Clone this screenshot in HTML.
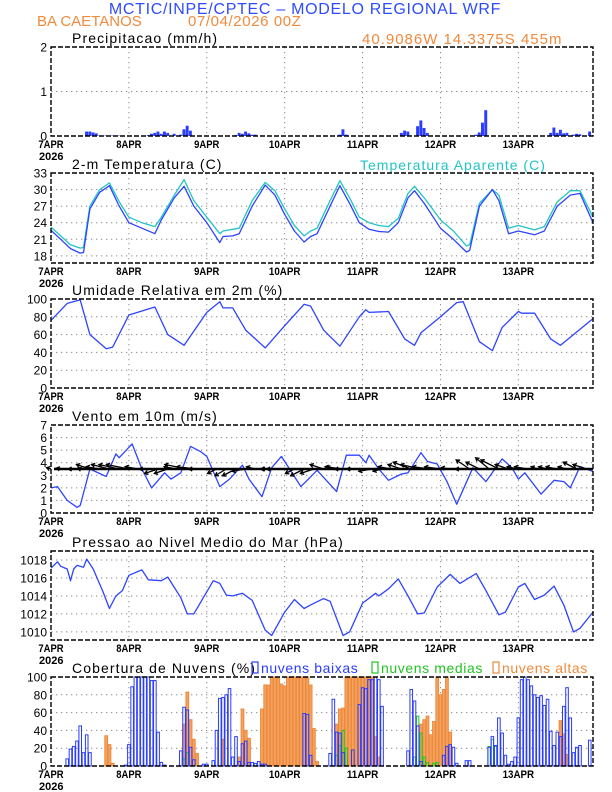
<!DOCTYPE html>
<html><head><meta charset="utf-8"><style>
html,body{margin:0;padding:0;background:#fff;}
svg{display:block;font-family:"Liberation Sans",sans-serif;}
</style></head><body>
<svg id="chart" width="612" height="792" viewBox="0 0 612 792" xmlns="http://www.w3.org/2000/svg">
<text x="305" y="14" text-anchor="middle" font-size="16" fill="#2e4cff" letter-spacing="0.7">MCTIC/INPE/CPTEC – MODELO REGIONAL WRF</text>
<text x="37" y="26" font-size="15" fill="#f08a3c">BA CAETANOS</text>
<text x="188" y="26" font-size="15" fill="#f08a3c" letter-spacing="0.6">07/04/2026 00Z</text>
<text x="362" y="44" font-size="15" fill="#f08a3c" letter-spacing="1.0">40.9086W 14.3375S 455m</text>
<g id="panels"></g>
</svg>
<script>
// ---------- DATA ----------
const dayLabels = ["7APR","8APR","9APR","10APR","11APR","12APR","13APR"];
const precipHours = [11,12,13,14,15,16,17,18,19,20,21,22,30,31,32,33,34,35,36,38,40,41,42,43,57,58,59,60,61,62,63,89,90,91,108,109,110,113,114,115,116,131,132,133,134,154,155,156,157,158,159,161,162,163,166];
const precipValues = [0.1,0.1,0.08,0.06,0.01,0.01,0.01,0.01,0.01,0.01,0.01,0.01,0.02,0.05,0.07,0.1,0.05,0.1,0.07,0.05,0.03,0.15,0.23,0.12,0.02,0.07,0.05,0.1,0.06,0.03,0.03,0.03,0.15,0.03,0.07,0.12,0.1,0.22,0.35,0.18,0.07,0.03,0.08,0.3,0.58,0.07,0.19,0.07,0.14,0.06,0.07,0.03,0.05,0.04,0.1];
const tempHours = [0,3,6,9,10,12,15,18,21,24,28,32,34,38,41,44,48,52,53,56,58,62,66,69,72,75,78,80,82,86,89,92,95,98,101,104,107,110,112,115,120,124,128,129,132,136,138,141,144,149,152,156,160,163,167];
const tempValues = [22.6,21,19.3,18.5,18.6,26.5,29.5,30.7,27,24,23,22,24.5,28.5,30.6,27,24,20.4,21.5,21.6,22,27,30.8,29,25.5,22.5,20.5,21.5,22,27,30.7,27.5,24,22.8,22.4,22.3,24,28.5,29.8,27.5,23,21,18.7,19,27,30,28,22,22.5,21.8,22.5,27,29,29.3,24];
const appTempValues = [23.2,21.6,20,19.4,19.5,27,30,31.2,27.8,25,24,23.3,25,29,31.8,28,25,22,22.5,22.8,23,28,31.3,29.8,26.5,23.5,21.6,22.5,23,28,31.6,28.5,25,24,23.5,23.3,24.8,29.3,30.6,28.5,24.5,22.5,19.8,20,27.5,30,29,23,23.5,22.7,23.3,27.8,29.8,29.8,25];
const rhHours = [0,5,9,12,17,19,24,32,36,41,48,52,53,56,60,66,72,78,80,84,89,95,97,98,104,109,112,114,120,125,127,132,136,139,144,145,149,154,157,167];
const rhValues = [76,95,99,60,44,46,82,91,60,48,85,97,90,90,65,45,70,94,92,65,47,80,88,85,86,55,48,62,80,96,97,52,42,68,86,84,84,55,48,78];
const windHours = [0,2,5,8,9,12,17,20,21,25,28,31,35,37,40,43,46,48,52,55,59,61,65,68,71,77,82,88,91,95,97,98,101,104,108,110,114,116,119,122,125,130,134,139,142,144,146,151,155,158,160,163,167];
const windValues = [2.0,2.1,1.0,0.45,0.6,3.5,2.9,4.7,4.4,5.5,3.5,2.0,3.2,2.7,3.2,5.3,4.9,4.5,2.1,2.7,3.8,2.7,1.3,3.6,4.5,2.1,3.4,1.7,4.6,4.6,4.0,4.6,3.5,2.6,3.1,3.2,4.8,4.1,3.9,2.5,0.7,3.6,2.5,4.3,3.6,2.7,3.2,1.5,2.6,2.5,2.0,3.7,3.3];
const windU = [-1,-1,-0.5,-0.5,-3,-3,-4,-4.5,-5,-3,-2,-3,-3,-3,-5,-4.5,-4,-2,-2.5,-3,-3,-2,-1,-3,-4,-2,-3,-3,-3,-1.5,-4,-4,-3.5,-3,-2,-3,-3,-4,-4.5,-4,-3.5,-2,-1,-3,-3,-3,-4,-3,-2.5,-3,-1.5,-2,-2.5,-2,-3,-3];
const windV = [0.3,0.2,0,0.2,1,0.5,1,1,1,0.5,0,-1,-1,0.5,1,0.5,0,-1,-1.5,-1.5,-0.5,0.5,0,0,0,-1,-1.5,-1,1,0.5,0.5,0,0,-0.5,-0.5,0.5,1,1.5,1,0.5,0.5,0.3,0,2,1.5,2.5,2,1,0.5,0.5,0.5,0.5,0.5,0.5,1.5,1];
const presHours = [0,2,3,5,6,7,8,10,11,13,16,18,20,22,24,28,30,34,36,40,42,44,50,52,54,56,59,62,66,68,72,75,78,80,84,86,90,92,96,100,101,104,107,110,113,115,119,123,126,131,134,138,140,144,146,149,152,155,158,161,163,167];
const presValues = [1017.1,1017.8,1017.3,1017,1015.7,1017,1017.4,1017.2,1018.1,1017,1014.5,1012.6,1014,1014.6,1016.3,1016.9,1015.8,1015.7,1016.1,1013.8,1012,1012,1015.7,1015.4,1014.1,1014,1014.3,1013.5,1010.2,1009.6,1012.2,1013.6,1012.6,1013,1013.7,1013.4,1009.6,1010,1013.2,1014.3,1014,1014.8,1015.9,1014,1012,1012.1,1015,1016.4,1015.4,1016.5,1014.6,1011.9,1012.2,1015,1015.4,1013.6,1014.1,1015.1,1013,1010,1010.4,1012.2];
const lowHours = [5,6,7,8,9,10,11,12,23,24,25,26,27,28,29,30,31,32,33,34,35,40,41,42,43,44,47,48,50,51,52,53,54,55,56,57,58,59,60,61,62,63,64,65,66,78,79,80,86,87,88,89,90,93,95,96,97,98,99,100,101,102,110,111,112,113,114,121,122,123,124,125,128,129,135,136,137,138,139,140,141,142,143,144,145,146,147,148,149,150,151,152,153,154,155,156,157,158,159,160,161,162,163,166];
const lowValues = [8,19,22,28,45,15,35,15,1,24,89,100,100,100,100,100,96,96,38,4,1,17,66,63,21,7,2,2,6,40,76,77,80,87,10,33,5,25,28,4,4,3,5,2,2,59,58,12,14,75,38,37,15,18,69,88,87,97,97,100,97,67,17,86,73,45,5,12,22,24,21,3,6,6,21,33,23,54,37,12,2,5,10,54,97,100,97,90,80,77,79,68,75,39,23,38,33,67,88,54,15,21,23,29];
const highHours = [17,18,19,41,42,43,44,45,53,58,59,60,61,65,66,67,68,69,70,71,72,73,74,75,76,77,78,79,80,81,82,88,89,90,91,92,93,94,95,96,97,98,99,100,101,114,115,116,117,118,119,120,121,122,123,157,158,159];
const highValues = [34,24,3,47,83,52,30,14,30,10,64,40,31,64,91,91,100,100,100,92,90,100,100,100,100,100,100,100,91,42,5,47,64,65,100,100,100,100,100,100,100,100,100,33,10,47,52,56,35,50,100,80,86,100,38,51,36,13];
const midHours = [41,42,88,89,90,91,112,113,114,115,116,118,119,135,136,137];
const midValues = [8,15,12,23,40,20,10,56,37,10,4,3,4,22,30,22];

// ---------- LAYOUT ----------
const X0 = 51, X1 = 593, HMAX = 167;
function xs(h){ return X0 + (X1 - X0) * h / HMAX; }
const svg = document.getElementById('panels');
const NS = "http://www.w3.org/2000/svg";
function mk(tag, attrs, parent){ const e = document.createElementNS(NS, tag); for (const k in attrs) e.setAttribute(k, attrs[k]); (parent||svg).appendChild(e); return e; }

function panel(name, top, bot, lo, hi, ticks, title){
  const g = mk('g', {});
  
  
  const ys = v => bot - (bot - top) * (v - lo) / (hi - lo);
  ticks.forEach(t => {
    if (ys(t) > top + 1 && ys(t) < bot - 1) {
      const l = mk('line', {x1:X0, x2:X1, y1:ys(t), y2:ys(t), stroke:'#8a8a8a', 'stroke-dasharray':'1.3,3.7', 'stroke-width':1}, g);
      
      
    }
  });
  for (let d = 1; d < 7; d++) {
    const l = mk('line', {x1:xs(d*24), x2:xs(d*24), y1:top, y2:bot, stroke:'#8a8a8a', 'stroke-dasharray':'1.3,3.7'}, g);
    
    
  }
  ticks.forEach(t => {
    const tx = mk('text', {x:47, y:ys(t)+4.5, 'text-anchor':'end', 'font-size':12, fill:'#000'}, g);
    tx.textContent = t;
    
    
  });
  dayLabels.forEach((lab, i) => {
    const tx = mk('text', {x:xs(i*24), y:bot+12, 'text-anchor':'middle', 'font-size':11, fill:'#000', 'font-weight':'bold', textLength: lab.length*6.3, lengthAdjust:'spacingAndGlyphs'}, g);
    tx.textContent = lab;
    
    
  });
  const yr = mk('text', {x:39, y:bot+24, 'font-size':11, 'font-weight':'bold', fill:'#000'}, g);
  yr.textContent = '2026';
  
  
  const tt = mk('text', {x:72, y:top-4, 'font-size':14, fill:'#000', 'letter-spacing':1.1}, g);
  tt.textContent = title;
  
  
  return {g, ys, top, bot};
}
function frame(p){
  const r = mk('rect', {x:X0, y:p.top, width:X1-X0, height:p.bot-p.top, fill:'none', stroke:'#000', 'stroke-width':1.4, 'stroke-dasharray':'5,2'}, p.g);
  
  
}
function line(p, hours, vals, color, name){
  const d = hours.map((h,i) => (i?'L':'M') + xs(h).toFixed(1) + ',' + p.ys(vals[i]).toFixed(1)).join(' ');
  const e = mk('path', {d, fill:'none', stroke:color, 'stroke-width':1.3, 'stroke-linejoin':'round'}, p.g);
  
  
}
const BW = (X1 - X0) / HMAX;

const p1 = panel('precipitation', 47, 136, 0, 2, [0,1,2], 'Precipitacao (mm/h)');
precipHours.forEach((h,i) => {
  const y = p1.ys(precipValues[i]);
  const b = mk('rect', {x:xs(h)-BW/2, y, width:BW*0.9, height:p1.bot-y, fill:'#2a3cff'}, p1.g);
  
  
});
frame(p1);

const p2 = panel('temperature', 173, 263, 16.7, 33, [18,21,24,27,30,33], '2-m Temperatura (C)');
const tl = mk('text', {x:360, y:170, 'font-size':14, fill:'#22c4c4', 'letter-spacing':1.0}, p2.g);
tl.textContent = 'Temperatura Aparente (C)';


line(p2, tempHours, appTempValues, '#22c4c4', 'apparent-temp-line');
line(p2, tempHours, tempValues, '#2e44ff', 'temp-line');
frame(p2);

const p3 = panel('humidity', 299, 388, 0, 100, [0,20,40,60,80,100], 'Umidade Relativa em 2m (%)');
line(p3, rhHours, rhValues, '#2e44ff', 'humidity-line');
frame(p3);

const p4 = panel('wind', 425, 513, 0, 7, [0,1,2,3,4,5,6,7], 'Vento em 10m (m/s)');
line(p4, windHours, windValues, '#2e44ff', 'wind-speed-line');
const yb = p4.ys(3.5);
const base = mk('line', {x1:X0+3, x2:X1, y1:yb, y2:yb, stroke:'#000', 'stroke-width':2.4}, p4.g);


windU.forEach((u,i) => {
  const h = i*3, x = xs(h), K = 4.5;
  const x2 = x + u*K, y2 = yb - windV[i]*K;
  const ang = Math.atan2(y2-yb, x2-x);
  const a1 = ang + 2.6, a2 = ang - 2.6;
  const d = `M${x},${yb} L${x2},${y2} M${x2+4*Math.cos(a1)},${y2+4*Math.sin(a1)} L${x2},${y2} L${x2+4*Math.cos(a2)},${y2+4*Math.sin(a2)}`;
  const a = mk('path', {d, fill:'none', stroke:'#000', 'stroke-width':1.3}, p4.g);
  
  
});
frame(p4);

const p5 = panel('pressure', 551, 640, 1009.1, 1019, [1010,1012,1014,1016,1018], 'Pressao ao Nivel Medio do Mar (hPa)');
line(p5, presHours, presValues, '#2e44ff', 'pressure-line');
frame(p5);

const p6 = panel('clouds', 677, 766, 0, 100, [0,20,40,60,80,100], 'Cobertura de Nuvens (%)');
function bars(hours, vals, fill, stroke, name, w){
  hours.forEach((h,i) => {
    const y = p6.ys(vals[i]);
    const b = mk('rect', {x:xs(h)-w/2, y, width:w, height:p6.bot-y, fill, stroke, 'stroke-width':1}, p6.g);
    
    
  });
}
bars(highHours, highValues, '#f5a261', '#ec8a3c', 'high-cloud-bar', BW*0.85);
bars(midHours, midValues, 'none', '#22c422', 'mid-cloud-bar', BW*0.7);
bars(lowHours, lowValues, 'none', '#2a3cff', 'low-cloud-bar', BW*0.8);
const legend = [['nuvens baixas','#2a3cff',252],['nuvens medias','#22c422',372],['nuvens altas','#f08a3c',493]];
legend.forEach(l => {
  const r = mk('rect', {x:l[2], y:662, width:6, height:11, fill:'none', stroke:l[1], 'stroke-width':1.2}, p6.g);
  
  
  const t = mk('text', {x:l[2]+9, y:673, 'font-size':14, fill:l[1], 'letter-spacing':0.6}, p6.g);
  t.textContent = l[0];
  
  
});
frame(p6);
</script>
</body></html>
